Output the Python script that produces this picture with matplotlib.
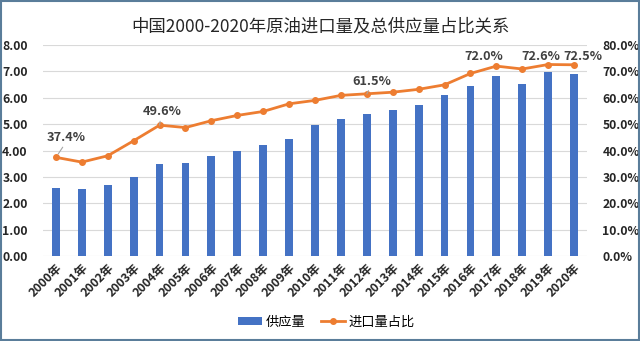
import matplotlib
matplotlib.use("Agg")
import matplotlib.pyplot as plt
from matplotlib.patches import Rectangle
from matplotlib.ticker import FuncFormatter

plt.rcParams['font.family'] = ['Noto Sans CJK SC', 'DejaVu Sans']

years = [f"{y}年" for y in range(2000, 2021)]
supply = [2.57, 2.53, 2.69, 3.00, 3.47, 3.52, 3.79, 3.98, 4.21, 4.45, 4.98,
          5.20, 5.38, 5.52, 5.73, 6.12, 6.44, 6.82, 6.53, 6.98, 6.91]
share = [37.4, 35.6, 38.0, 43.7, 49.6, 48.7, 51.3, 53.3, 54.8, 57.7, 59.0,
         60.9, 61.5, 62.1, 63.2, 64.9, 69.2, 72.0, 70.9, 72.6, 72.5]
labelled = {0: (7.6, 14.0, True), 4: (2.1, 9.5, True), 12: (3.6, 9.0, True),
            17: (-8.9, 7.2, False), 19: (-5.6, 6.0, False), 20: (6.5, 6.3, False)}

title = "中国2000-2020年原油进口量及总供应量占比关系"
bar_color = "#4472C4"
line_color = "#ED7D31"
txt = "#262626"

fig = plt.figure(figsize=(6.4, 3.41), dpi=100)
ax = fig.add_axes([43/640, 1-256/341, 544/640, 211/341])
ax2 = ax.twinx()

x = list(range(len(years)))
ax.bar(x, supply, width=0.3, color=bar_color, zorder=2, label="供应量")
ax2.plot(x, share, color=line_color, lw=2, marker='o', ms=4, zorder=3, label="进口量占比")

ax.set_xlim(-0.5, len(years) - 0.5)
ax.set_ylim(0, 8)
ax2.set_ylim(0, 80)
ax.set_yticks([i for i in range(9)])
ax2.set_yticks([i*10 for i in range(9)])
ax.yaxis.set_major_formatter(FuncFormatter(lambda v, p: f"{v:.2f}"))
ax2.yaxis.set_major_formatter(FuncFormatter(lambda v, p: f"{v:.1f}%"))
ax.grid(axis='y', color='#d9d9d9', lw=0.8, zorder=0)
ax.set_axisbelow(True)
for a in (ax, ax2):
    for s in a.spines.values():
        s.set_visible(False)
    a.tick_params(length=0, labelsize=8.8, labelcolor=txt)
ax.tick_params(axis='y', pad=11)
ax2.tick_params(axis='y', pad=11)
ax.set_xticks(x)
ax.set_xticklabels(years, rotation=45, ha='right', rotation_mode='anchor',
                   fontsize=8.8, fontweight='bold', color=txt)
for lab in ax.get_yticklabels() + ax2.get_yticklabels():
    lab.set_fontweight('bold')
ax.tick_params(axis='x', pad=4)

for i, (dx, dy, leader) in labelled.items():
    kw = {}
    if leader:
        kw['arrowprops'] = dict(arrowstyle='-', color='#a6a6a6', lw=0.8,
                                shrinkA=0, shrinkB=3, relpos=(0.45, 0.0))
    ax2.annotate(f"{share[i]:.1f}%", (i, share[i]), xytext=(dx, dy),
                 textcoords='offset points', ha='center', va='center',
                 fontsize=9.2, fontweight='bold', color='#404040', zorder=5,
                 annotation_clip=False, **kw)

fig.text(0.5, 1-26/341, title, ha='center', va='center', fontsize=12.5, color=txt)

h1, l1 = ax.get_legend_handles_labels()
h2, l2 = ax2.get_legend_handles_labels()
fig.legend(h1 + h2, l1 + l2, loc='center', bbox_to_anchor=(0.51, 1-322/341),
           ncol=2, frameon=False, fontsize=9.5, handlelength=1.8, handleheight=0.5,
           columnspacing=1.2, handletextpad=0.3)

fig.patches.append(Rectangle((0.002, 0.003), 0.996, 0.994, transform=fig.transFigure,
                             fill=False, edgecolor='#5a7d9a', lw=1.5))

fig.savefig("out.png", dpi=100)
